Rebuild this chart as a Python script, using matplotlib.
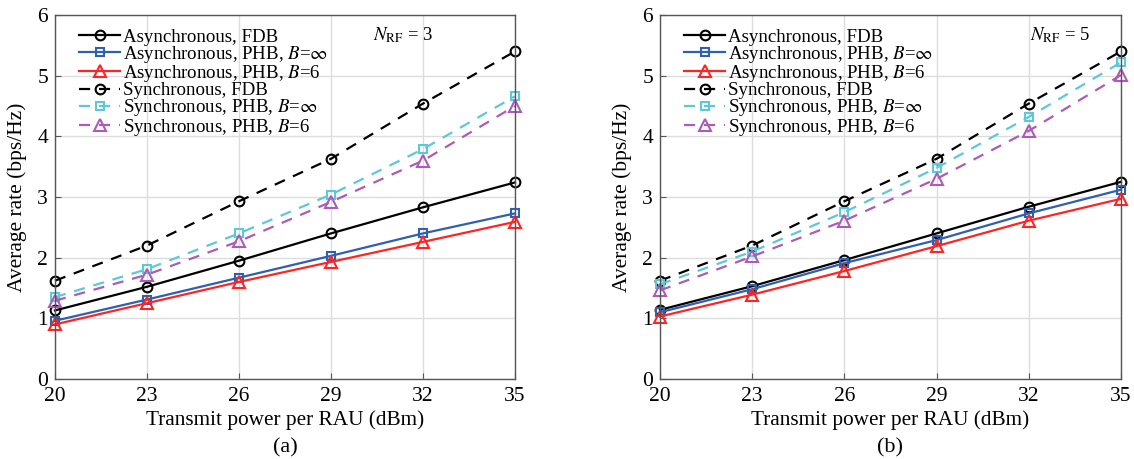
import numpy as np
import matplotlib
matplotlib.use("Agg")
import matplotlib.pyplot as plt

plt.rcParams['font.family'] = ['Liberation Serif', 'DejaVu Serif']
plt.rcParams['mathtext.fontset'] = 'stix'

# transmit power per RAU (dBm)
power = [20, 23, 26, 29, 32, 35]

# (a) N_RF = 3
a_async_fdb = [1.13, 1.52, 1.95, 2.40, 2.83, 3.24]
a_async_inf = [0.96, 1.31, 1.67, 2.03, 2.40, 2.73]
a_async_b6 = [0.90, 1.25, 1.60, 1.93, 2.26, 2.59]
a_sync_fdb = [1.62, 2.20, 2.93, 3.63, 4.54, 5.40]
a_sync_inf = [1.35, 1.81, 2.40, 3.04, 3.79, 4.66]
a_sync_b6 = [1.29, 1.72, 2.27, 2.92, 3.60, 4.50]

# (b) N_RF = 5
b_async_fdb = [1.14, 1.53, 1.96, 2.40, 2.84, 3.25]
b_async_inf = [1.10, 1.48, 1.91, 2.29, 2.73, 3.12]
b_async_b6 = [1.03, 1.39, 1.78, 2.19, 2.61, 2.97]
b_sync_fdb = [1.62, 2.20, 2.93, 3.63, 4.54, 5.40]
b_sync_inf = [1.56, 2.10, 2.75, 3.48, 4.32, 5.22]
b_sync_b6 = [1.46, 2.02, 2.61, 3.30, 4.09, 5.01]

labels = ['Asynchronous, FDB',
          'Asynchronous, PHB, $B$=$\\infty$',
          'Asynchronous, PHB, $B$=6',
          'Synchronous, FDB',
          'Synchronous, PHB, $B$=$\\infty$',
          'Synchronous, PHB, $B$=6']
colors = ['black', '#2f5fb0', '#ff2424', 'black', '#5cc8d8', '#ab5bb8']
markers = ['o', 's', '^', 'o', 's', '^']
msizes = [7, 5.5, 8, 7, 5.5, 8]
styles = ['-', '-', '-', (0, (5, 4)), (0, (5, 4)), (0, (5, 4))]

fig = plt.figure(figsize=(11.34, 4.59), dpi=100)
ax1 = fig.add_axes([55 / 1134, 1 - 379 / 459, 460 / 1134, 364 / 459])
ax2 = fig.add_axes([660 / 1134, 1 - 379 / 459, 461 / 1134, 364 / 459])

panels = [
    (ax1, [a_async_fdb, a_async_inf, a_async_b6, a_sync_fdb, a_sync_inf, a_sync_b6], '3', 0.757, '(a)'),
    (ax2, [b_async_fdb, b_async_inf, b_async_b6, b_sync_fdb, b_sync_inf, b_sync_b6], '5', 0.868, '(b)'),
]

for ax, series, nrf, tx, cap in panels:
    for y, lab, c, m, ms, ls in zip(series, labels, colors, markers, msizes, styles):
        ax.plot(power, y, linestyle=ls, color=c, marker=m, ms=ms, mfc='none',
                mec=c, mew=1.5, lw=1.6, label=lab, clip_on=False)
    ax.set_xlim(20, 35)
    ax.set_ylim(0, 6)
    ax.set_xticks(power)
    ax.set_yticks(np.arange(0, 7, 1))
    ax.grid(True, color='#dddddd', lw=1.0)
    ax.set_axisbelow(True)
    ax.tick_params(direction='in', labelsize=15.5, length=4, color='#555555')
    ax.tick_params(axis='x', pad=6)
    ax.tick_params(axis='y', pad=5)
    for sp in ax.spines.values():
        sp.set_color('#555555')
        sp.set_linewidth(1.0)
    ax.set_xlabel('Transmit power per RAU (dBm)', fontsize=15.3, labelpad=3)
    ax.set_ylabel('Average rate (bps/Hz)', fontsize=15.5, labelpad=7)
    ax.text(tx, 0.945, '$N_{\\mathrm{RF}}$ = ' + nrf, transform=ax.transAxes,
            ha='center', va='center', fontsize=13.5)
    ax.text(0.5, -0.19, cap, transform=ax.transAxes, ha='center', va='center',
            fontsize=16)
    ax.legend(loc='upper left', bbox_to_anchor=(0.028, 0.994), frameon=False,
              fontsize=13.6, handlelength=2.15, handletextpad=0.15,
              labelspacing=-0.1, borderaxespad=0.3, borderpad=0.3)

fig.savefig('out.png', dpi=100)
